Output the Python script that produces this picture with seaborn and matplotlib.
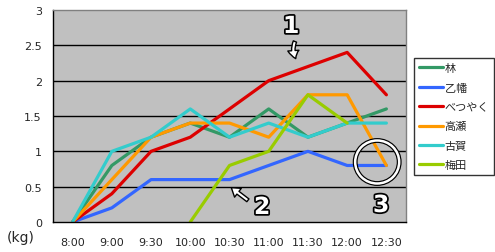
import matplotlib
matplotlib.use("Agg")
import matplotlib.pyplot as plt
import matplotlib.patheffects as pe
from matplotlib.patches import Ellipse
from matplotlib.lines import Line2D
import seaborn as sns
import pandas as pd
import numpy as np

times = ["8:00", "9:00", "9:30", "10:00", "10:30", "11:00", "11:30", "12:00", "12:30"]
names = ["林", "乙幡", "べつやく", "高瀬", "古賀", "梅田"]
hayashi = [0, 0.8, 1.2, 1.4, 1.2, 1.6, 1.2, 1.4, 1.6]
oppata = [0, 0.2, 0.6, 0.6, 0.6, 0.8, 1.0, 0.8, 0.8]
betsuyaku = [0, 0.4, 1.0, 1.2, 1.6, 2.0, 2.2, 2.4, 1.8]
takase = [0, 0.6, 1.2, 1.4, 1.4, 1.2, 1.8, 1.8, 0.8]
koga = [0, 1.0, 1.2, 1.6, 1.2, 1.4, 1.2, 1.4, 1.4]
umeda = [None, None, None, 0, 0.8, 1.0, 1.8, 1.4, None]
colors = ["#339966", "#3366FF", "#DD0000", "#FF9900", "#33CCCC", "#99CC00"]

series = [hayashi, oppata, betsuyaku, takase, koga, umeda]
rows = []
for n, vals in zip(names, series):
    for i, v in enumerate(vals):
        if v is not None:
            rows.append({"name": n, "pos": i, "value": v})
df = pd.DataFrame(rows)

sns.set_style("white")
plt.rcParams["font.family"] = ["DejaVu Sans", "Noto Sans CJK JP"]

fig = plt.figure(figsize=(4.95, 2.53), dpi=100)
ax = fig.add_axes([53/495, 1-223/253, (406-53)/495, (223-11)/253])
ax.set_facecolor("#C0C0C0")

sns.lineplot(data=df, x="pos", y="value", hue="name", hue_order=names,
             palette=colors, linewidth=2.3, sort=False, legend=False, ax=ax)

ax.set_xlim(-0.5, len(times) - 0.5)
ax.set_ylim(0, 3)
ax.set_yticks(np.arange(0, 3.01, 0.5))
ax.set_yticklabels(["0", "0.5", "1", "1.5", "2", "2.5", "3"])
ax.set_xticks(range(len(times)))
ax.set_xticklabels(times)
ax.set_xticks(np.arange(0.5, len(times) - 0.5, 1), minor=True)
ax.tick_params(axis="x", which="major", length=0, pad=11, labelsize=8)
ax.tick_params(axis="x", which="minor", length=5, direction="in", width=1, color="black")
ax.tick_params(axis="y", length=0, pad=8, labelsize=8)
ax.set_xlabel("")
ax.set_ylabel("")
for y in np.arange(0.5, 3.0, 0.5):
    ax.axhline(y, color="black", lw=1, zorder=0.5)
ax.set_axisbelow(True)
for s in ["top", "right"]:
    ax.spines[s].set_color("#808080")
for s in ["left", "bottom"]:
    ax.spines[s].set_color("black")
for s in ax.spines.values():
    s.set_linewidth(1)

fig.text(21/495, 1-238/253, "(kg)", fontsize=10, ha="center", va="center")

handles = [Line2D([0], [0], color=c, lw=2.3) for c in colors]
leg = ax.legend(handles, names, loc="upper left", bbox_to_anchor=((414-53)/353, 1 - (59-11)/212),
                frameon=True, fancybox=False, edgecolor="black",
                handlelength=2.2, handletextpad=0.1, labelspacing=0.85, borderpad=0.45,
                borderaxespad=0, prop={"family": ["Noto Sans CJK JP"], "size": 8})
leg.get_frame().set_linewidth(1)

outline = [pe.withStroke(linewidth=2.5, foreground="black")]
def px2data(x, y):
    return ((x - 72.6) / 39.2, (223 - y) / 70.67)

tx, ty = px2data(291, 27)
ax.text(tx, ty, "1", fontsize=17, fontweight="bold", color="white", ha="center", va="center",
        path_effects=outline, clip_on=False)
a1 = px2data(297, 62); t1 = px2data(296, 40)
ax.annotate("", xy=a1, xytext=t1,
            arrowprops=dict(arrowstyle="simple,head_width=0.8,head_length=0.6,tail_width=0.25",
                            fc="white", ec="black", lw=1, connectionstyle="arc3,rad=0.3"))
tx, ty = px2data(262, 208)
ax.text(tx, ty, "2", fontsize=17, fontweight="bold", color="white", ha="center", va="center",
        path_effects=outline, clip_on=False)
a2 = px2data(229, 187); t2 = px2data(250, 203)
ax.annotate("", xy=a2, xytext=t2,
            arrowprops=dict(arrowstyle="simple,head_width=0.8,head_length=0.6,tail_width=0.25",
                            fc="white", ec="black", lw=1))
tx, ty = px2data(381, 206)
ax.text(tx, ty, "3", fontsize=17, fontweight="bold", color="white", ha="center", va="center",
        path_effects=outline, clip_on=False)
cx, cy = px2data(377, 163)
ax.add_patch(Ellipse((cx, cy), 44/39.2, 43/70.67, angle=0, fill=False, ec="black", lw=3.5, zorder=5))
ax.add_patch(Ellipse((cx, cy), 44/39.2, 43/70.67, angle=0, fill=False, ec="white", lw=1.8, zorder=6))

fig.savefig("out.png", dpi=100, facecolor="white")
